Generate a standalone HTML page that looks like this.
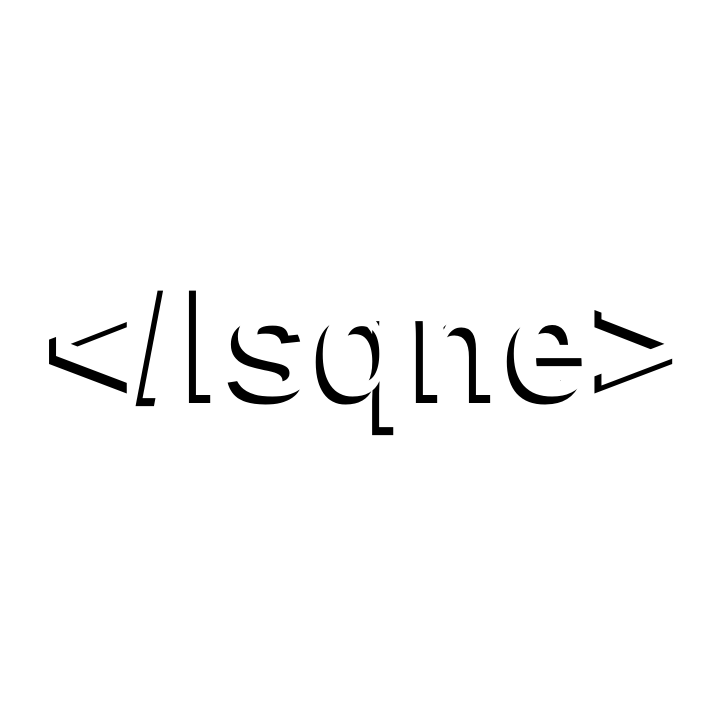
<!DOCTYPE html>
<html><head><meta charset="utf-8"><style>
html,body{margin:0;padding:0;background:#fff;width:720px;height:720px;overflow:hidden}
#t{position:absolute;left:8px;width:720px;text-align:center;font-family:"Liberation Sans",Arial,sans-serif;font-weight:700;font-size:155px;line-height:155px;top:264px;color:#fff;text-shadow:-7px 8px 0 #000;white-space:pre;letter-spacing:1px}
</style></head><body>
<div id="t">&lt;/lsqne&gt;</div>
</body></html>
